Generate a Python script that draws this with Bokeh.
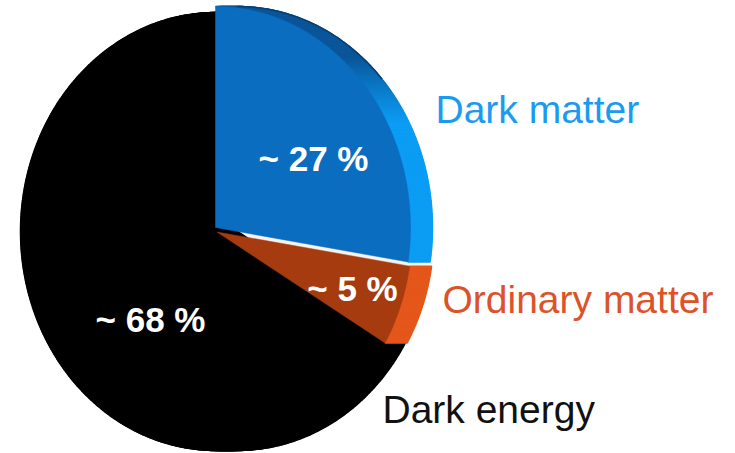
import numpy as np
from bokeh.plotting import figure
from bokeh.models import Range1d
from bokeh.core.properties import value
from bokeh.embed import file_html
from bokeh.resources import INLINE

# Composition of the universe, clockwise from twelve o'clock
components = ["Dark matter", "Ordinary matter", "Dark energy"]
shares = [27, 5, 68]
share_labels = ["~ 27 %", "~ 5 %", "~ 68 %"]

# Styling per component
face_colors = ["#0a6dc0", "#a63b10", "#000000"]
name_colors = ["#1b9bef", "#dc532a", "#111111"]

W, H = 735, 453
CX, CY = 215.0, 231.0          # pie centre (pixels, y downwards)
RX, RY = 195.0, 219.0          # elliptical outline of the tilted disc
TILT = 1.25                    # vertical stretch of the disc's angles
DEPTH = np.array([22.0, 0.0])  # extrusion of the slab toward the back
EXPLODE = {"Dark matter": (0.0, -4.0), "Ordinary matter": (1.5, 0.5), "Dark energy": (0.0, 0.0)}
EXTRA_RY = {"Dark matter": 2.0, "Ordinary matter": 0.0, "Dark energy": 0.0}
TEXT_SHIFT = -14               # baseline correction for the svg text renderer

p = figure(width=W, height=H, output_backend="svg", toolbar_location=None,
           x_range=Range1d(0, W), y_range=Range1d(H, 0), min_border=0)
p.axis.visible = False
p.grid.visible = False
p.outline_line_color = None
p.background_fill_color = "white"
p.border_fill_color = "white"


def project(phi_deg, off, extra_ry=0.0):
    phi = np.radians(phi_deg)
    psi = np.arctan2(TILT * np.sin(phi), np.cos(phi))
    x = CX + off[0] + RX * np.cos(psi)
    y = CY + off[1] - (RY + extra_ry) * np.sin(psi)
    return np.column_stack([x, y]), np.degrees(psi)


def mix(c1, c2, t):
    a = np.array([int(c1[i:i + 2], 16) for i in (1, 3, 5)], float)
    b = np.array([int(c2[i:i + 2], 16) for i in (1, 3, 5)], float)
    c = a + (b - a) * min(max(t, 0.0), 1.0)
    return "#%02x%02x%02x" % tuple(int(round(v)) for v in c)


def blue_side(psi):
    # top of the rim is in shadow, the right-hand rim catches the light
    return mix("#0a5599", "#0b9cf4", (50.0 - psi) / 22.0)


slices = {}
start = 90.0
for name, share in zip(components, shares):
    sweep = 360.0 * share / 100.0
    n = max(12, int(sweep * 1.5))
    phis = np.linspace(start, start - sweep, n)
    off = EXPLODE[name]
    arc, psis = project(phis, off, EXTRA_RY[name])
    apex = np.array([CX + off[0], CY + off[1]])
    slices[name] = dict(arc=arc, psis=psis, apex=apex)
    start -= sweep


def quads(points_a, points_b):
    xs, ys = [], []
    for a0, a1 in zip(points_a, points_b):
        q = np.array([a0, a1, a1 + DEPTH, a0 + DEPTH])
        xs.append(list(q[:, 0]))
        ys.append(list(q[:, 1]))
    return xs, ys


def arc_sweep(name):
    arc = slices[name]["arc"]
    return quads(arc[:-1], arc[1:])


def radial_sweep(name, which):
    s = slices[name]
    end = s["arc"][0] if which == "start" else s["arc"][-1]
    return quads([s["apex"]], [end])


# rim and edge faces of the slab, back to front
xs, ys = radial_sweep("Ordinary matter", "start")
p.patches(xs, ys, fill_color="#f6f2ef", line_color="#f6f2ef", line_width=0.5)

xs, ys = arc_sweep("Dark energy")
for which in ("start", "end"):
    rx_, ry_ = radial_sweep("Dark energy", which)
    xs += rx_
    ys += ry_
p.patches(xs, ys, fill_color="#000000", line_color="#000000", line_width=1.5)

xs, ys = arc_sweep("Ordinary matter")
p.patches(xs, ys, fill_color="#e5561a", line_color="#e5561a", line_width=1.5)

xs, ys = arc_sweep("Dark matter")
mids = 0.5 * (slices["Dark matter"]["psis"][:-1] + slices["Dark matter"]["psis"][1:])
cols = [blue_side(m) for m in mids]
p.patches(xs, ys, fill_color=cols, line_color=cols, line_width=1.5)
back = slices["Dark matter"]["arc"] + DEPTH
top = slices["Dark matter"]["psis"] > 42
p.line(back[top, 0], back[top, 1], line_color="#073f72", line_width=1.5)

# front faces
for name, color in zip(["Dark energy", "Ordinary matter", "Dark matter"],
                       [face_colors[2], face_colors[1], face_colors[0]]):
    s = slices[name]
    poly = np.vstack([s["apex"], s["arc"]])
    p.patch(poly[:, 0], poly[:, 1], fill_color=color, line_color=color, line_width=0.5)

# percentage labels on the slices
label_pos = {"Dark matter": (313, 172), "Ordinary matter": (352, 302), "Dark energy": (150, 333)}
p.text(x=[label_pos[c][0] for c in components],
       y=[label_pos[c][1] + TEXT_SHIFT for c in components],
       text=share_labels, text_color="white", text_font=value("Liberation Sans"),
       text_font_style="bold", text_font_size="35px", text_align="center",
       text_baseline="alphabetic")

# component names
name_pos = {"Dark matter": (435, 123), "Ordinary matter": (442, 313), "Dark energy": (382, 423)}
p.text(x=[name_pos[c][0] for c in components],
       y=[name_pos[c][1] + TEXT_SHIFT for c in components],
       text=components, text_color=name_colors, text_font=value("Liberation Sans"),
       text_font_size="39px", text_align="left", text_baseline="alphabetic")

open("out.html", "w").write(file_html(p, INLINE))
